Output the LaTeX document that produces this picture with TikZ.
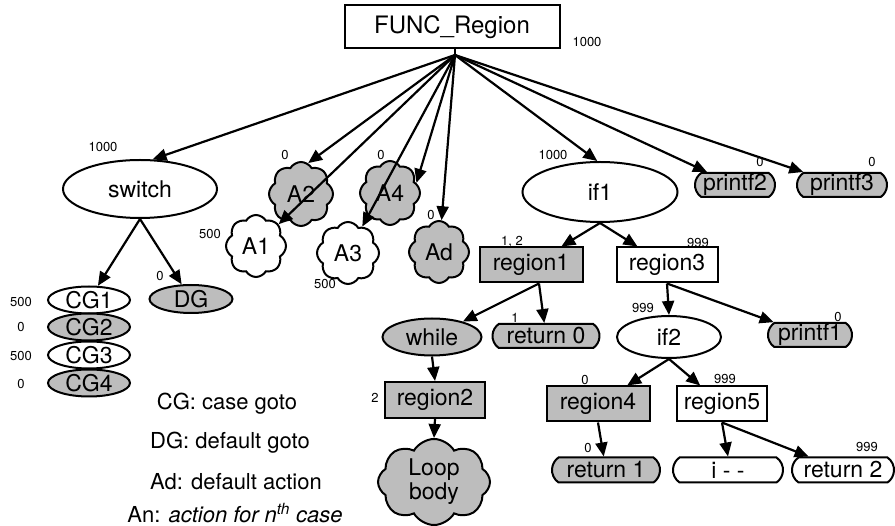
\documentclass[tikz,border=0pt]{standalone}
\usepackage{fontspec}
\setmainfont{TeX Gyre Heros}
\usetikzlibrary{shapes.geometric,shapes.symbols,shapes.misc,arrows.meta}

\begin{document}
\begin{tikzpicture}[x=1pt,y=-1pt,
  every node/.style={font=\fontsize{23}{24}\selectfont, inner sep=0pt, line width=2pt},
  box/.style={draw, rectangle, minimum height=35pt},
  oval/.style={draw, ellipse},
  pill/.style={draw, rounded rectangle, rounded rectangle arc length=110, minimum height=25pt},
  puff/.style={draw, cloud, cloud puffs=8, cloud puff arc=120, cloud ignores aspect},
  shade/.style={fill=black!26},
  num/.style={font=\fontsize{13}{13}\selectfont},
  legend/.style={font=\fontsize{22}{23}\selectfont},
  link/.style={line width=2.2pt, -{Triangle[length=14pt,width=12pt]}}]

\useasboundingbox (0,0) rectangle (895,526);

% root region
\node[box, minimum width=215pt, minimum height=43pt, font=\fontsize{24}{26}\selectfont] (func) at (452,27) {FUNC\_Region\hspace{24pt}};
\coordinate (hub) at (455,55);

% switch subtree
\node[oval, minimum width=154pt, minimum height=58pt] (switch) at (140,189) {switch};
\node[oval, minimum width=82pt, minimum height=27pt] (cg1) at (89,300) {CG1};
\node[oval, shade, minimum width=82pt, minimum height=27pt] (cg2) at (89,327) {CG2};
\node[oval, minimum width=82pt, minimum height=27pt] (cg3) at (89,355) {CG3};
\node[oval, shade, minimum width=82pt, minimum height=27pt] (cg4) at (89,383) {CG4};
\node[oval, shade, minimum width=83pt, minimum height=28pt] (dg) at (191,299) {DG};

% actions
\node[puff, shade, minimum width=64pt, minimum height=64pt] (a2) at (301,194) {A2};
\node[puff, shade, minimum width=60pt, minimum height=64pt] (a4) at (390,193) {A4};
\node[puff, minimum width=60pt, minimum height=62pt] (a1) at (256,246) {A1};
\node[puff, minimum width=62pt, minimum height=62pt] (a3) at (348,253) {A3};
\node[puff, shade, minimum width=60pt, minimum height=62pt] (ad) at (439,252) {Ad};

% if subtree
\node[oval, minimum width=155pt, minimum height=60pt] (if1) at (600,192) {if1};
\node[pill, shade, minimum width=80pt, minimum height=24pt] (printf2) at (735,185) {printf2};
\node[pill, shade, minimum width=90pt, minimum height=24pt] (printf3) at (842,185) {printf3};
\node[box, shade, minimum width=103pt] (region1) at (531,265) {region1};
\node[box, minimum width=101pt] (region3) at (667,265) {region3};
\node[oval, shade, minimum width=99pt, minimum height=37pt] (while) at (432,337) {while};
\node[pill, shade, minimum width=107pt, minimum height=24pt] (return0) at (546,336) {return 0};
\node[oval, minimum width=104pt, minimum height=42pt] (if2) at (669,337) {if2};
\node[pill, shade, minimum width=84pt, minimum height=24pt] (printf1) at (810,335) {printf1};
\node[box, shade, minimum width=100pt, minimum height=36pt] (region2) at (435,400) {region2};
\node[puff, shade, minimum width=112pt, minimum height=86pt, align=center] (loop) at (434,482) {Loop\\body};
\node[box, shade, minimum width=103pt] (region4) at (598,404) {region4};
\node[box, minimum width=90pt] (region5) at (722,404) {region5};
\node[pill, shade, minimum width=108pt] (return1) at (606,470) {return 1};
\node[pill, minimum width=110pt] (idec) at (728,470) {i - -};
\node[pill, minimum width=102pt] (return2) at (843,470) {return 2};

% counts
\node[num] (n-func) at (587,42) {1000};
\node[num] (n-switch) at (103,147) {1000};
\node[num] (n-a2) at (285,155) {0};
\node[num] (n-a4) at (381,155) {0};
\node[num] (n-a1) at (210,234) {500};
\node[num] (n-a3) at (325,284) {500};
\node[num] (n-ad) at (431,215) {0};
\node[num] (n-if1) at (553,155) {1000};
\node[num] (n-printf2) at (760,162) {0};
\node[num] (n-printf3) at (872,162) {0};
\node[num] (n-region1) at (512,242) {1, 2};
\node[num] (n-region3) at (698,243) {999};
\node[num] (n-return0) at (515,318) {1};
\node[num] (n-if2) at (643,308) {999};
\node[num] (n-printf1) at (838,317) {0};
\node[num] (n-region2) at (375,398) {2};
\node[num] (n-region4) at (585,380) {0};
\node[num] (n-region5) at (725,379) {999};
\node[num] (n-return1) at (588,448) {0};
\node[num] (n-return2) at (867,447) {999};
\node[num] (n-dg) at (160,276) {0};
\node[num] (n-cg1) at (21,302) {500};
\node[num] (n-cg2) at (21,327) {0};
\node[num] (n-cg3) at (21,356) {500};
\node[num] (n-cg4) at (21,384) {0};

% legend
\node[legend] (l1) at (227,404) {CG: case goto};
\node[legend] (l2) at (230,443) {DG: default goto};
\node[legend] (l3) at (236,482) {Ad: default action};
\node[legend] (l4) at (235,513) {An: \textit{action for n\textsuperscript{th} case}};

% connectors
\draw[line width=2.2pt] (func.south -| hub) -- (hub);
\draw[link] (hub) -- (switch.67);
\draw[link] (hub) -- (a2.77);
\draw[link] (hub) -- (a1);
\draw[link] (hub) -- (a4.21);
\draw[link] (hub) -- (a3);
\draw[link] (hub) -- (ad);
\draw[link] (hub) -- (if1.95);
\draw[link] (hub) -- (printf2);
\draw[link] (hub) -- (printf3);

\draw[link] (switch.south) -- (cg1);
\draw[link] (switch.south) -- (dg);

\draw[link] (if1.south) -- (region1);
\draw[link] (if1.south) -- (region3);
\draw[link] ([xshift=8pt]region1.south) -- (while);
\draw[link] ([xshift=8pt]region1.south) -- (return0);
\draw[link] (while.south) -- (region2.north);
\draw[link] (region2.south) -- (loop.north);
\draw[link] (region3.south) -- (if2.north);
\draw[link] (region3.south) -- (printf1);
\draw[link] (if2.south) -- (region4);
\draw[link] (if2.south) -- (region5);
\draw[link] (region4.south) -- (return1);
\draw[link] (region5.south) -- (idec.north);
\draw[link] (region5.south) -- (return2);
\end{tikzpicture}
\end{document}
